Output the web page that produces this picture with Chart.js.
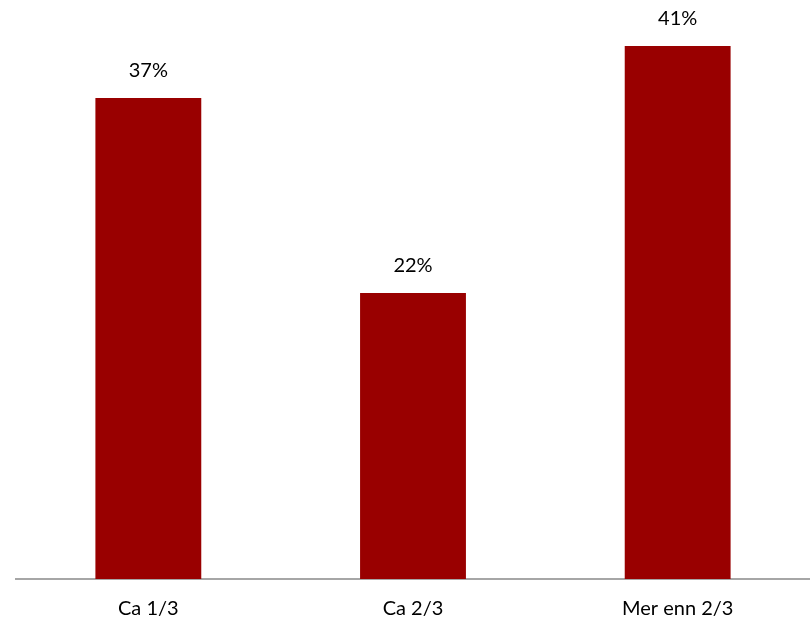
<!DOCTYPE html>
<html>
<head>
<meta charset="utf-8">
<script src="https://cdn.jsdelivr.net/npm/chart.js@4"></script>
<style>
  html, body { margin: 0; padding: 0; background: #fff; }
  #wrap { width: 810px; height: 627px; }
</style>
</head>
<body>
<div id="wrap"><canvas id="bar_chart"></canvas></div>
<script>
const categories = ['Ca 1/3', 'Ca 2/3', 'Mer enn 2/3']
const values = [37, 22, 41]

// etiquetas con el valor encima de cada barra
const valueLabels = {
    id: 'valueLabels',
    afterDatasetsDraw(chart) {
        const ctx = chart.ctx
        const meta = chart.getDatasetMeta(0)
        ctx.save()
        ctx.fillStyle = '#000'
        ctx.font = '20px Lato, "Open Sans", sans-serif'
        ctx.textAlign = 'center'
        ctx.textBaseline = 'middle'
        meta.data.forEach((bar, i) => {
            ctx.fillText(values[i] + '%', bar.x, bar.y - 27)
        })
        ctx.restore()
    }
}

const data = {
    labels: categories,
    datasets: [
        {
            data: values,
            backgroundColor: '#990000',
            categoryPercentage: 1,
            barPercentage: 0.4
        }
    ]
}

const options = {
    responsive: true,
    maintainAspectRatio: false,
    animation: false,
    layout: { padding: { top: 7, left: 16, right: 0, bottom: -12 } },
    plugins: { legend: { display: false }, tooltip: { enabled: false } },
    scales: {
        x: {
            grid: { display: false, drawTicks: false },
            border: { color: '#a6a6a6', width: 2 },
            ticks: { color: '#000', padding: 18, font: { size: 20, family: 'Lato, "Open Sans", sans-serif' } }
        },
        y: {
            display: false,
            min: 0,
            max: 44
        }
    }
}

new Chart('bar_chart', { type: 'bar', data, options, plugins: [valueLabels] })
</script>
</body>
</html>
